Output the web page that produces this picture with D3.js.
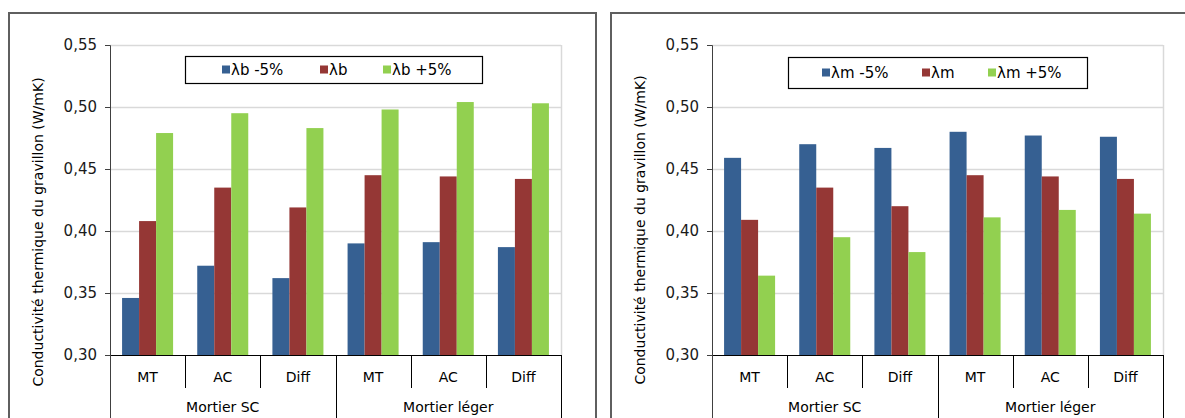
<!DOCTYPE html>
<html><head><meta charset="utf-8">
<script src="https://cdn.jsdelivr.net/npm/d3@7"></script>
<style>
html,body{margin:0;padding:0;background:#fff;}
svg{display:block;font-family:"DejaVu Sans",sans-serif;}
</style></head>
<body><svg id="c" width="1185" height="418"></svg>
<script>
const categories = ["MT","AC","Diff","MT","AC","Diff"];
const groups = ["Mortier SC","Mortier léger"];
const yTicks = [0.30,0.35,0.40,0.45,0.50,0.55];
const yTitle = "Conductivité thermique du gravillon (W/mK)";
const colors = ["#366092","#953735","#92D050"];

const leftSeries = ["λb -5%","λb","λb +5%"];
const leftMinus = [0.346,0.372,0.362,0.390,0.391,0.387];
const leftBase  = [0.408,0.435,0.419,0.445,0.444,0.442];
const leftPlus  = [0.479,0.495,0.483,0.498,0.504,0.503];

const rightSeries = ["λm -5%","λm","λm +5%"];
const rightMinus = [0.459,0.470,0.467,0.480,0.477,0.476];
const rightBase  = [0.409,0.435,0.420,0.445,0.444,0.442];
const rightPlus  = [0.364,0.395,0.383,0.411,0.417,0.414];

const svg = d3.select("#c");
const fr = d3.formatLocale({decimal:",",thousands:" ",grouping:[3],currency:["","€"]});
const fmt = fr.format(".2f");

function panel(ox, seriesNames, values, legendBox, legendSquares, titleY) {
  const g = svg.append("g").attr("transform", `translate(${ox},0)`);
  // outer border
  g.append("rect").attr("x",9).attr("y",13).attr("width",587).attr("height",420)
    .attr("fill","none").attr("stroke","#5f5f5f").attr("stroke-width",2);
  const x0 = 110, x1 = 561, yTop = 45, yBot = 355;
  const keys = categories.map((c,i)=>i);
  const x = d3.scaleBand().domain(keys).range([x0,x1]).padding(0);
  const xs = d3.scaleBand().domain(seriesNames).range([0,x.bandwidth()]).paddingInner(0).paddingOuter(0.71);
  const y = d3.scaleLinear().domain([0.30,0.55]).range([yBot,yTop]);

  // gridlines
  g.append("g").selectAll("line").data(yTicks.slice(1)).join("line")
    .attr("x1",x0).attr("x2",x1).attr("y1",d=>Math.round(y(d))+0.5).attr("y2",d=>Math.round(y(d))+0.5)
    .attr("stroke","#d9d9d9").attr("stroke-width",1.5);
  // plot area right border
  g.append("line").attr("x1",x1+0.5).attr("x2",x1+0.5).attr("y1",yTop).attr("y2",yBot)
    .attr("stroke","#d9d9d9").attr("stroke-width",1.5);

  // bars
  const rows = [];
  seriesNames.forEach((s,si)=>values[si].forEach((v,ci)=>rows.push({s,si,ci,v})));
  g.append("g").selectAll("rect").data(rows).join("rect")
    .attr("x",d=>x(d.ci)+xs(d.s)).attr("width",xs.bandwidth())
    .attr("y",d=>y(d.v)).attr("height",d=>y(0.30)-y(d.v))
    .attr("fill",d=>colors[d.si]);

  // y axis
  const ya = d3.axisLeft(y).tickValues(yTicks).tickSize(5).tickPadding(8).tickFormat(fmt);
  const yg = g.append("g").attr("transform",`translate(${x0},0)`).call(ya);
  yg.select(".domain").attr("stroke","#404040");
  yg.selectAll(".tick line").attr("stroke","#404040");
  yg.selectAll("text").attr("font-size",15).attr("fill","#1a1a1a").attr("font-family","DejaVu Sans");

  // x baseline
  g.append("line").attr("x1",x0).attr("x2",x1).attr("y1",yBot+0.5).attr("y2",yBot+0.5)
    .attr("stroke","#000").attr("stroke-width",1);
  // category dividers
  const bounds = d3.range(categories.length+1).map(i=> i<categories.length ? x(i) : x1);
  g.append("g").selectAll("line").data(bounds).join("line")
    .attr("x1",d=>Math.round(d)+0.5).attr("x2",d=>Math.round(d)+0.5)
    .attr("y1",yBot)
    .attr("y2",(d,i)=> (i%3===0) ? 430 : 388)
    .attr("stroke",(d,i)=> i===0 ? "#404040" : "#000").attr("stroke-width",1);
  // category labels
  g.append("g").selectAll("text").data(categories).join("text")
    .attr("x",(d,i)=>x(i)+x.bandwidth()/2).attr("y",382)
    .attr("text-anchor","middle").attr("font-size",14).attr("fill","#000").text(d=>d);
  // group labels
  g.append("g").selectAll("text").data(groups).join("text")
    .attr("x",(d,i)=>(x(i*3)+ (i===groups.length-1 ? x1 : x(i*3+3)))/2).attr("y",412)
    .attr("text-anchor","middle").attr("font-size",14).attr("fill","#000").text(d=>d);

  // y title
  g.append("text").attr("transform",`translate(43,${titleY}) rotate(-90)`)
    .attr("text-anchor","middle").attr("font-size",14).attr("fill","#000").text(yTitle);

  // legend
  g.append("rect").attr("x",legendBox[0]+0.5).attr("y",legendBox[1]+0.5)
    .attr("width",legendBox[2]).attr("height",legendBox[3])
    .attr("fill","#fff").attr("stroke","#000").attr("stroke-width",1.2);
  const cy = legendBox[1]+legendBox[3]/2;
  const li = g.append("g").selectAll("g").data(seriesNames).join("g")
    .attr("transform",(d,i)=>`translate(${legendSquares[i]},${cy})`);
  li.append("rect").attr("x",0).attr("y",-4).attr("width",8).attr("height",8).attr("fill",(d,i)=>colors[i]);
  li.append("text").attr("x",9).attr("y",5.5).attr("font-size",15).attr("fill","#000").text(d=>d);
}

panel(0, leftSeries, [leftMinus,leftBase,leftPlus], [185,56,297,27], [222,320,383], 232);
panel(602, rightSeries, [rightMinus,rightBase,rightPlus], [186,57,299,31], [220,320,386], 230);
</script></body></html>
